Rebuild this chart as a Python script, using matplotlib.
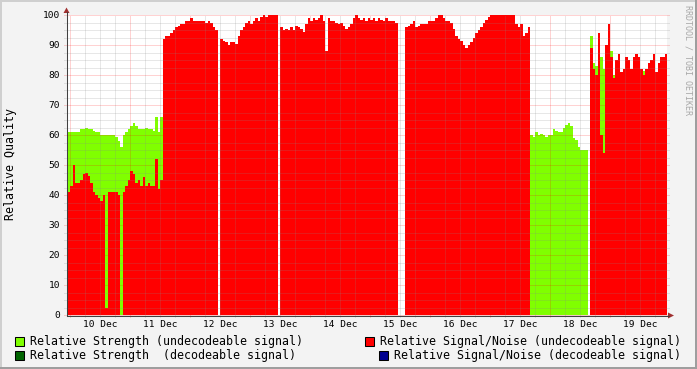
import matplotlib
matplotlib.use("Agg")
import matplotlib.pyplot as plt
from matplotlib.patches import Rectangle, Polygon
from matplotlib.lines import Line2D
import numpy as np

NAN = np.nan

# Stundenwerte; erster Wert = 9. Dez 23:00 (Stunden relativ zu 10. Dez 00:00)
first_hour = -1
step_hours = 1

# Relative Signal/Noise (undecodeable signal)
snr_undec = [
    41, 43, 50, 44, 44, 45, 47, 47.5, 46.5, 44,            # 0
    41, 40, 39, 38, 40, 2.5, 41, 41, 41, 41,               # 10
    40, NAN, 41, 43, 45, 48, 47, 44, 45, 43,               # 20
    46, 43, 44, 43, 43, 52, 42, 45, 92, 93,                # 30
    93, 94, 95, 96, 96.5, 97, 97, 98, 98, 99,              # 40
    98, 98, 98, 98, 98, 97.5, 98, 97.5, 96, 95,            # 50
    NAN, 92, 91.5, 91, 90, 91, 91, 90.5, 93, 95,           # 60
    96, 97.5, 98, 97, 98, 99, 98, 99.5, 100, 99.5,         # 70
    100, 100, 100, 100, NAN, 96, 95, 95.5, 95, 96,         # 80
    95, 96.5, 96, 95.5, 94.5, 97, 99, 98, 99, 98.5,        # 90
    99, 100, 98, 88, 99, 98, 98, 97.5, 97, 97.5,           # 100
    96.5, 95.5, 96, 97, 99, 100, 99, 98.5, 99, 98,         # 110
    99, 98.5, 99, 98, 99, 98.5, 98, 99, 98, 98,            # 120
    98, 97.5, NAN, NAN, NAN, 96, 96.5, 97, 98, 96,         # 130
    96.5, 97, 97, 97, 98, 98, 98, 99, 100, 100,            # 140
    99, 98, 98, 97.5, 95.5, 93, 92, 91.5, 90, 89,          # 150
    90, 91, 92.5, 94, 95, 96, 97.5, 98.5, 99.5, 100,       # 160
    100, 100, 100, 100, 100, 100, 100, 100, 100, 97,       # 170
    96, 97, 93, 94, 96, NAN, NAN, NAN, NAN, NAN,           # 180
    NAN, NAN, NAN, NAN, NAN, NAN, NAN, NAN, NAN, NAN,      # 190
    NAN, NAN, NAN, NAN, NAN, NAN, NAN, NAN, NAN, 89,       # 200
    82, 80, 94, 60, 54, 90, 97, 86, 79, 85,                # 210
    87, 81, 82, 86, 85, 82, 86, 87, 86, 82,                # 220
    80, 82, 84, 85, 87, 81, 84, 86, 86, 87,                # 230
]

# Relative Strength (undecodeable signal), nur sichtbare Werte
strength_undec = (
    [61, 61, 61, 61, 61, 62, 62, 62.5, 62, 62,             # 0
     61.5, 61, 61, 60, 60, 60, 60, 60, 60, 59.5,           # 10
     58, 56, 60, 61, 62, 63, 64, 63, 62, 62,               # 20
     62, 62.5, 62, 62, 61.5, 66, 61, 66]                   # 30
    + [NAN] * 147                                          # 38..184
    + [60, 59.5, 61, 60, 60.5,                             # 185
       60, 59.5, 60, 60, 62, 61.5, 61, 61, 62.5, 63.5,     # 190
       64, 63, 59, 58.5, 56, 55, 55, 55, NAN, 93,          # 200
       84, 83, NAN, 86, 82, NAN, NAN, 88, 80, NAN]         # 210
    + [NAN] * 10                                           # 220
    + [81.5] + [NAN] * 9                                   # 230
)

# decodeable-Serien enthalten im Zeitraum keine Werte
strength_dec = [NAN] * len(snr_undec)
snr_dec = [NAN] * len(snr_undec)

day_labels = ['10 Dec', '11 Dec', '12 Dec', '13 Dec', '14 Dec',
              '15 Dec', '16 Dec', '17 Dec', '18 Dec', '19 Dec']
y_ticks = [0, 10, 20, 30, 40, 50, 60, 70, 80, 90, 100]

C_STRENGTH_UNDEC = '#80ff00'
C_STRENGTH_DEC = '#006400'
C_SNR_UNDEC = '#ff0000'
C_SNR_DEC = '#000090'

W, H = 697, 369
plt.rcParams['font.family'] = ['DejaVu Sans Mono']


def fx(x):
    return x / W


def fy(y):
    return 1 - y / H


def step_area(ax, values, color, z):
    vals = np.asarray(values, dtype=float)
    left = first_hour + np.arange(len(vals)) * step_hours
    xs = np.column_stack([left, left + step_hours]).ravel()
    ys = np.repeat(vals, 2)
    ax.fill_between(xs, 0, ys, color=color, linewidth=0, zorder=z)


fig = plt.figure(figsize=(W / 100, H / 100), dpi=100, facecolor='#f3f3f3')
ax = fig.add_axes([fx(67), fy(315), fx(667) - fx(67), fy(15) - fy(315)])
ax.set_facecolor('white')

# Flächen: zuerst Strength, dann Signal/Noise darüber
step_area(ax, strength_undec, C_STRENGTH_UNDEC, 1)
step_area(ax, strength_dec, C_STRENGTH_DEC, 1.5)
step_area(ax, snr_undec, C_SNR_UNDEC, 2)
step_area(ax, snr_dec, C_SNR_DEC, 2.5)

x_min, x_max = -1.2, 238.8
ax.set_xlim(x_min, x_max)
ax.set_ylim(0, 100)

# Gitter (liegt über den Flächen, wie bei rrdtool)
dots = (0, (1, 1))
n_days = len(day_labels)
minor_x = [h for h in range(0, 24 * n_days, 6) if h % 24 and h < x_max]
major_x = [h for h in range(0, 24 * n_days, 24) if h < x_max]
minor_y = [v for v in np.arange(0, 100.1, 2.5) if v % 10]
ax.vlines(minor_x, -0.8, 100, colors='#8a8a8a', alpha=0.4, lw=0.72,
          linestyles=dots, zorder=5, clip_on=False)
ax.vlines(major_x, -0.8, 100, colors='#ff0000', alpha=0.35, lw=0.72,
          linestyles=dots, zorder=5, clip_on=False)
ax.hlines(minor_y, x_min - 1.2, x_max + 1.0, colors='#8a8a8a', alpha=0.4, lw=0.72,
          linestyles=dots, zorder=5, clip_on=False)
ax.hlines(y_ticks, x_min - 1.2, x_max + 1.0, colors='#ff0000', alpha=0.35, lw=0.72,
          linestyles=dots, zorder=5, clip_on=False)

ax.set_xticks([12 + 24 * k for k in range(n_days)])
ax.set_xticklabels(day_labels)
ax.set_yticks(y_ticks)
ax.set_yticklabels([str(v) for v in y_ticks])
ax.tick_params(axis='both', length=0, labelsize=6.8)
ax.tick_params(axis='y', pad=5)
ax.tick_params(axis='x', pad=3.5)
for s in ax.spines.values():
    s.set_visible(False)

# Achsen mit Pfeilen
axis_col = '#404040'
arrow_col = '#a03030'
fig.add_artist(Line2D([fx(66.5), fx(66.5)], [fy(315.5), fy(12)], color=axis_col, lw=0.75))
fig.add_artist(Line2D([fx(66.5), fx(669)], [fy(315.5), fy(315.5)], color=axis_col, lw=0.75))
fig.add_artist(Polygon([(fx(63.5), fy(13)), (fx(69.5), fy(13)), (fx(66.5), fy(7.5))],
                       closed=True, color=arrow_col, lw=0))
fig.add_artist(Polygon([(fx(668), fy(312.5)), (fx(668), fy(318.5)), (fx(674), fy(315.5))],
                       closed=True, color=arrow_col, lw=0))

# Beschriftungen
fig.text(fx(11), fy(164.5), 'Relative Quality', rotation=90, ha='center', va='center',
         fontsize=8.38)
fig.text(fx(688), fy(60), 'RRDTOOL / TOBI OETIKER', rotation=270, ha='center', va='center',
         fontsize=6, color='#a8a8a8')

# Legende
legend_items = [
    (15, 336.5, 30, 341, C_STRENGTH_UNDEC, 'Relative Strength (undecodeable signal)'),
    (365, 336.5, 380, 341, C_SNR_UNDEC, 'Relative Signal/Noise (undecodeable signal)'),
    (15, 350.5, 30, 355, C_STRENGTH_DEC, 'Relative Strength  (decodeable signal)'),
    (379, 350.5, 394, 355, C_SNR_DEC, 'Relative Signal/Noise (decodeable signal)'),
]
for bx, by, tx, ty, col, label in legend_items:
    fig.add_artist(Rectangle((fx(bx), fy(by + 9)), 9 / W, 9 / H, facecolor=col,
                             edgecolor='black', lw=0.75))
    fig.text(fx(tx), fy(ty), label, ha='left', va='center', fontsize=8.38)

# Rahmen (3D-Schattierung)
fig.add_artist(Rectangle((0, fy(2)), 1, 2 / H, color='#cfcfcf', lw=0))
fig.add_artist(Rectangle((0, 0), 2 / W, 1, color='#cfcfcf', lw=0))
fig.add_artist(Rectangle((0, 0), 1, 2 / H, color='#9e9e9e', lw=0))
fig.add_artist(Rectangle((fx(695), 0), 2 / W, 1, color='#9e9e9e', lw=0))

fig.savefig('out.png', dpi=100, facecolor=fig.get_facecolor())
